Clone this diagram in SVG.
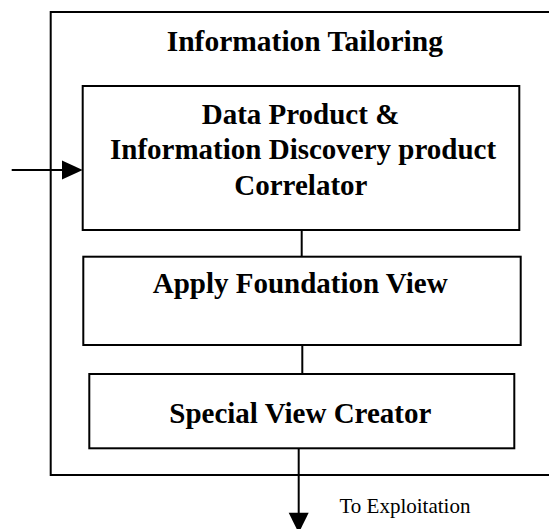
<svg xmlns="http://www.w3.org/2000/svg" width="549" height="529" viewBox="0 0 549 529">
  <style>
    .box { fill: #ffffff; stroke: #000000; stroke-width: 2; }
    .frame { fill: none; stroke: #000000; stroke-width: 2; }
    .wire { fill: none; stroke: #000000; stroke-width: 2; }
    .head { fill: #000000; stroke: none; }
    .bold { font-family: "Liberation Serif", "Times New Roman", serif; font-weight: bold; font-size: 29px; fill: #000000; }
    .title { font-size: 29.5px; }
    .note { font-family: "Liberation Serif", "Times New Roman", serif; font-size: 21px; fill: #000000; }
  </style>
  <rect width="549" height="529" fill="#ffffff"/>

  <!-- enclosing process frame (runs off the right edge) -->
  <g id="information-tailoring">
    <path class="frame" d="M 560 12 L 50.7 12 L 50.7 475 L 560 475"/>
    <text class="bold title" x="166.7" y="50.7">Information Tailoring</text>
  </g>

  <g id="correlator">
    <rect class="box" x="82.7" y="86" width="436.6" height="144"/>
    <text class="bold" x="201.7" y="124.3">Data Product &amp;</text>
    <text class="bold" x="110" y="159.3">Information Discovery product</text>
    <text class="bold" x="234.3" y="195">Correlator</text>
  </g>

  <g id="foundation-view">
    <rect class="box" x="83.3" y="256.7" width="437.4" height="88.3"/>
    <text class="bold" x="152.7" y="293.3">Apply Foundation View</text>
  </g>

  <g id="special-view">
    <rect class="box" x="89.3" y="374" width="425" height="74.3"/>
    <text class="bold" x="169.3" y="422.7">Special View Creator</text>
  </g>

  <g id="connectors">
    <!-- input into the correlator -->
    <line class="wire" x1="11.7" y1="170" x2="63" y2="170"/>
    <polygon class="head" points="62,160.5 82.7,170 62,179.5"/>
    <!-- stage links -->
    <line class="wire" x1="301.7" y1="230" x2="301.7" y2="256.7"/>
    <line class="wire" x1="302.3" y1="345" x2="302.3" y2="374"/>
    <!-- output to exploitation -->
    <line class="wire" x1="298.7" y1="448.3" x2="298.7" y2="514"/>
    <polygon class="head" points="288.7,512.7 308.7,512.7 298.7,533"/>
    <text class="note" x="339.5" y="512.7">To Exploitation</text>
  </g>
</svg>
